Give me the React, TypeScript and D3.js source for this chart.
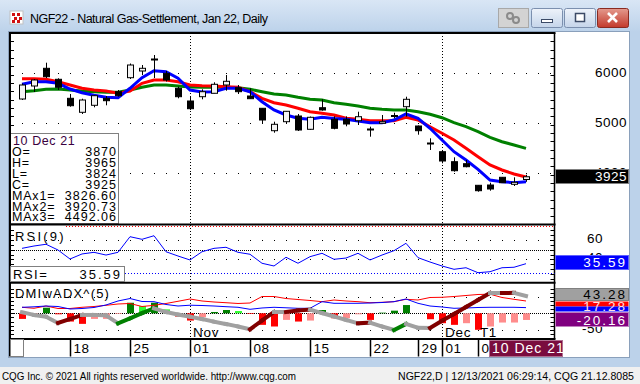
// Dependencies
import React, { useRef, useEffect } from "react";
import * as d3 from "d3";

// Trading days shown on the chart
const dates = [
  "2021-10-12", "2021-10-13", "2021-10-14", "2021-10-15",
  "2021-10-18", "2021-10-19", "2021-10-20", "2021-10-21", "2021-10-22",
  "2021-10-25", "2021-10-26", "2021-10-27", "2021-10-28", "2021-10-29",
  "2021-11-01", "2021-11-02", "2021-11-03", "2021-11-04", "2021-11-05",
  "2021-11-08", "2021-11-09", "2021-11-10", "2021-11-11", "2021-11-12",
  "2021-11-15", "2021-11-16", "2021-11-17", "2021-11-18", "2021-11-19",
  "2021-11-22", "2021-11-23", "2021-11-24", "2021-11-26",
  "2021-11-29", "2021-11-30",
  "2021-12-01", "2021-12-02", "2021-12-03",
  "2021-12-06", "2021-12-07", "2021-12-08", "2021-12-09", "2021-12-10",
];

// OHLC
const opens = [5480, 5740, 6094, 5874, 5494, 5214, 5354, 5494, 5626, 5906, 6040, 6262, 5994, 5694, 5440, 5526, 5594, 5760, 5706, 5540, 5294, 4846, 5026, 5140, 4874, 5306, 5074, 5074, 5046, 4880, 4994, 5150, 5326, 4940, 4600, 4426, 4226, 4186, 3754, 3760, 3914, 3774, 3870];
const highs = [5790, 5880, 6206, 5894, 5580, 5486, 5560, 5540, 5660, 6190, 6160, 6360, 6040, 5726, 5526, 5674, 5814, 5960, 5760, 5694, 5294, 5026, 5240, 5180, 5130, 5474, 5134, 5134, 5226, 4926, 5160, 5206, 5526, 4950, 4694, 4460, 4314, 4260, 3754, 3806, 3914, 3914, 3965];
const lows = [5460, 5620, 5900, 5660, 5326, 5180, 5314, 5354, 5530, 5880, 5960, 5900, 5830, 5494, 5260, 5474, 5594, 5646, 5580, 5486, 4994, 4806, 4994, 4840, 4860, 5246, 4874, 4934, 4960, 4726, 4994, 5094, 5126, 4766, 4460, 4194, 4026, 4114, 3626, 3646, 3806, 3740, 3824];
const closes = [5760, 5860, 5926, 5714, 5346, 5460, 5546, 5446, 5546, 6160, 6094, 6280, 5860, 5526, 5286, 5626, 5774, 5834, 5626, 5486, 5060, 4974, 5234, 4860, 5114, 5260, 4894, 4980, 5126, 4874, 5026, 5140, 5474, 4846, 4590, 4240, 4046, 4126, 3646, 3680, 3806, 3814, 3925];

// Moving averages
const ma1 = [5774, 5826, 5826, 5794, 5680, 5606, 5554, 5514, 5506, 5694, 5906, 6046, 6026, 5894, 5660, 5620, 5626, 5694, 5694, 5626, 5426, 5260, 5160, 5094, 5074, 5114, 5090, 5074, 5040, 5006, 5006, 5060, 5180, 5094, 4894, 4660, 4426, 4260, 4074, 3860, 3826, 3806, 3826.6];
const ma2 = [5886, 5886, 5874, 5826, 5760, 5694, 5660, 5640, 5594, 5640, 5794, 5860, 5860, 5826, 5760, 5746, 5740, 5726, 5714, 5626, 5494, 5406, 5360, 5294, 5226, 5194, 5160, 5094, 5074, 5046, 5046, 5046, 5114, 5060, 4926, 4794, 4660, 4494, 4326, 4160, 4060, 3980, 3920.73];
const ma3 = [5626, 5646, 5674, 5680, 5660, 5640, 5626, 5614, 5614, 5660, 5714, 5760, 5760, 5740, 5720, 5714, 5714, 5714, 5706, 5674, 5626, 5580, 5560, 5514, 5474, 5460, 5406, 5374, 5340, 5294, 5274, 5260, 5260, 5226, 5174, 5106, 5006, 4926, 4826, 4714, 4626, 4560, 4492.06];

// RSI(9)
const rsi = [51.4, 53.8, 55.6, 49.7, 40.4, 45.6, 47.3, 44.5, 47.3, 63.4, 60.7, 64.4, 47.9, 43.5, 39.4, 47.9, 51.4, 52.5, 47.3, 45.3, 36.0, 33.2, 42.2, 36.0, 42.8, 46.3, 40.1, 41.4, 46.3, 39.4, 44.5, 49.0, 56.6, 41.8, 37.3, 33.2, 29.8, 31.4, 26.3, 27.3, 31.4, 31.9, 35.59];
const rsiLevel = 26;

// DMI with ADX(5)
const diPlus = [18.2, 19.7, 22.1, 20.6, 13.0, 14.5, 17.6, 25.2, 37.3, 44.8, 35.8, 35.2, 26.7, 22.1, 24.5, 23.6, 22.1, 20.0, 18.2, 12.1, 16.1, 18.2, 16.7, 15.2, 15.2, 35.2, 30.3, 30.3, 30.3, 31.2, 32.7, 35.2, 43.3, 30.3, 22.1, 19.1, 15.2, 16.1, 17.6, 18.2, 18.2, 18.2, 17.2];
const diMinus = [18.2, 15.2, 22.1, 14.5, 14.5, 18.2, 20.6, 24.2, 28.2, 29.7, 20.6, 24.2, 29.7, 36.4, 43.3, 37.3, 34.2, 32.1, 29.7, 31.2, 50.9, 50.9, 44.8, 41.8, 38.8, 35.2, 40.3, 37.3, 35.2, 32.1, 33.3, 35.2, 42.4, 40.3, 47.9, 48.5, 50.9, 53.9, 57.0, 57.9, 47.9, 42.4, 37.3];
const dmiHist = [-17, -7, 17, -3, -25, -32, -17, -17, -2, 32, 22, 32, 12, -10, -22, -12, 4, 10, 7, -2, -35, -40, -20, -25, -22, 10, -15, -15, -3, -20, 2, 8, 25, 0, -18, -30, -35, -30, -50, -40, -28, -28, -20.16];
const adx = [27.3, 24.7, 23.0, 16.8, 20.7, 24.7, 24.7, 24.2, 16.5, 21.3, 26.4, 31.2, 27.6, 25.1, 23.0, 20.7, 18.1, 15.8, 13.4, 10.6, 19.3, 27.6, 27.5, 29.1, 30.0, 26.6, 23.2, 19.8, 16.5, 17.1, 13.4, 10.0, 15.8, 12.2, 12.0, 19.0, 25.6, 32.5, 39.4, 46.3, 46.2, 46.4, 43.28];
const diLabel = "17.28";

// Axes
const priceTicks = [6000, 5000, 4000];
const rsiTicks = [60, 40];
const dmiTicks = [50, -50];
const weekTicks = ["2021-10-18", "2021-10-25", "2021-11-01", "2021-11-08", "2021-11-15", "2021-11-22", "2021-11-29", "2021-12-01", "2021-12-06"];
const weekLabels = ["18", "25", "01", "08", "15", "22", "29", "01", "06"];
const monthLines = ["2021-11-01", "2021-12-01"];
const monthLabels = ["Nov", "Dec_"];

const FONT = "'Liberation Sans', Arial, sans-serif";

const App: React.FC = () => {
  const ref = useRef<SVGSVGElement | null>(null);

  useEffect(() => {
    if (!ref.current) return;
    document.body.style.margin = "0";
    const svg = d3.select(ref.current);
    svg.selectAll("*").remove();

    // layout
    const L = 10, R = 554.5;
    const mainTop = 33, mainBot = 224.5;
    const rsiTop = 225.5, rsiBot = 282.5;
    const dmiTop = 283.5, dmiBot = 339;
    const axBot = 356.5;

    // Scales
    const x = d3.scalePoint<string>().domain(dates).range([22, 526]);
    const yP = d3.scaleLinear().domain([4000, 6000]).range([173, 73]);
    const yR = d3.scaleLinear().domain([40, 60]).range([259.4, 240]);
    const yD = d3.scaleLinear().domain([-50, 50]).range([329.8, 296.8]);
    const yA = d3.scaleLinear().domain([10, 43.28]).range([329.95, 296]);
    const px = (i: number) => x(dates[i]) as number;
    const crisp = (v: number) => Math.round(v) + 0.5;

    const text = (g: any, tx: number, ty: number, s: string, size: number, fill = "#000", anchor = "start", spacing = 0) =>
      g.append("text")
        .attr("x", tx).attr("y", ty)
        .attr("font-family", FONT).attr("font-size", size)
        .attr("fill", fill).attr("text-anchor", anchor)
        .attr("letter-spacing", spacing)
        .text(s);
    const hline = (g: any, y: number, x1: number, x2: number, stroke: string, dash: string | null, w = 1) =>
      g.append("line").attr("x1", x1).attr("x2", x2).attr("y1", y).attr("y2", y)
        .attr("stroke", stroke).attr("stroke-width", w).attr("stroke-dasharray", dash);

    // Window chrome
    const defs = svg.append("defs");
    const tg = defs.append("linearGradient").attr("id", "titleGrad").attr("x1", 0).attr("x2", 0).attr("y1", 0).attr("y2", 1);
    tg.append("stop").attr("offset", 0).attr("stop-color", "#d9e6f5");
    tg.append("stop").attr("offset", 1).attr("stop-color", "#bcd2ea");
    const bg = defs.append("linearGradient").attr("id", "btnGrad").attr("x1", 0).attr("x2", 0).attr("y1", 0).attr("y2", 1);
    bg.append("stop").attr("offset", 0).attr("stop-color", "#eef3fa");
    bg.append("stop").attr("offset", 1).attr("stop-color", "#c5d5ea");
    const cg = defs.append("linearGradient").attr("id", "closeGrad").attr("x1", 0).attr("x2", 0).attr("y1", 0).attr("y2", 1);
    cg.append("stop").attr("offset", 0).attr("stop-color", "#e49a8e");
    cg.append("stop").attr("offset", 1).attr("stop-color", "#c3392b");
    defs.append("clipPath").attr("id", "rightAxis").append("rect").attr("x", 555).attr("y", 33).attr("width", 75).attr("height", 306);

    svg.append("rect").attr("width", 640).attr("height", 384).attr("fill", "#bcd2ea");
    svg.append("rect").attr("width", 640).attr("height", 32).attr("fill", "url(#titleGrad)");

    // icon
    const icon = svg.append("g").attr("transform", "translate(10,11)");
    icon.append("rect").attr("width", 13).attr("height", 13).attr("fill", "#fff").attr("stroke", "#c0c0c0");
    [[2, 2], [7, 2], [4, 6], [9, 6], [2, 9], [7, 9]].forEach(([a, b]) =>
      icon.append("rect").attr("x", a).attr("y", b).attr("width", 3).attr("height", 3).attr("fill", "#d01010"));
    text(svg, 30, 23, "NGF22 - Natural Gas-Settlement, Jan 22, Daily", 12.5).attr("textLength", 238);

    // title buttons
    svg.append("rect").attr("x", 498.5).attr("y", 8.5).attr("width", 30).attr("height", 19).attr("fill", "#d3d3d3").attr("stroke", "#a8a8a8");
    svg.append("circle").attr("cx", 510).attr("cy", 16).attr("r", 3).attr("fill", "none").attr("stroke", "#8a8a8a").attr("stroke-width", 2);
    svg.append("circle").attr("cx", 516).attr("cy", 20).attr("r", 3).attr("fill", "none").attr("stroke", "#8a8a8a").attr("stroke-width", 2);
    svg.append("rect").attr("x", 531.5).attr("y", 8.5).attr("width", 31).attr("height", 19).attr("rx", 2).attr("fill", "url(#btnGrad)").attr("stroke", "#7b8fae");
    svg.append("rect").attr("x", 541.5).attr("y", 19.5).attr("width", 11).attr("height", 3).attr("fill", "#fff").attr("stroke", "#3b4a66");
    svg.append("rect").attr("x", 564.5).attr("y", 8.5).attr("width", 31).attr("height", 19).attr("rx", 2).attr("fill", "url(#btnGrad)").attr("stroke", "#7b8fae");
    svg.append("rect").attr("x", 575.5).attr("y", 13.5).attr("width", 9).attr("height", 8).attr("fill", "#fff").attr("stroke", "#3b4a66").attr("stroke-width", 1.5);
    svg.append("rect").attr("x", 597.5).attr("y", 8.5).attr("width", 31).attr("height", 19).attr("rx", 2).attr("fill", "url(#closeGrad)").attr("stroke", "#8a2a20");
    svg.append("path").attr("d", "M608,13 L617,22 M617,13 L608,22").attr("stroke", "#fff").attr("stroke-width", 2.6);

    // client area and status bar
    svg.append("rect").attr("x", 8.5).attr("y", 31.5).attr("width", 621).attr("height", 326).attr("fill", "#fff").attr("stroke", "#8aa0bb");
    svg.append("rect").attr("x", 0).attr("y", 367).attr("width", 640).attr("height", 17).attr("fill", "#f0f0f0");
    text(svg, 2, 380, "CQG Inc. \u00a9 2021 All rights reserved worldwide. http://www.cqg.com", 11)
      .attr("textLength", 294).attr("lengthAdjust", "spacingAndGlyphs");
    text(svg, 634, 380, "NGF22,D | 12/13/2021 06:29:14, CQG 21.12.8085", 11, "#000", "end")
      .attr("textLength", 236).attr("lengthAdjust", "spacingAndGlyphs");

    const chart = svg.append("g");

    // Horizontal grids
    priceTicks.forEach((t) => hline(chart, crisp(yP(t)), L, R, "#000", "1 11"));
    rsiTicks.forEach((t) => hline(chart, crisp(yR(t)), L, R, "#000", "1 11"));
    hline(chart, crisp(yR(50)), L, R, "#000", "1 1");
    dmiTicks.forEach((t) => hline(chart, crisp(yD(t)), L, R, "#000", "1 11"));
    hline(chart, crisp(yD(0)), L, R, "#000", "1 1");

    // Vertical month grids
    monthLines.forEach((d) =>
      chart.append("line").attr("x1", crisp(x(d) as number)).attr("x2", crisp(x(d) as number))
        .attr("y1", mainTop).attr("y2", dmiBot).attr("stroke", "#000").attr("stroke-dasharray", "1 2"));

    // Axis minor ticks
    const tickSet = (scale: any, step: number, top: number, bot: number) => {
      d3.range(-200, 8000, step).map((v) => scale(v)).filter((y: number) => y > top + 1 && y < bot - 1).forEach((y: number) => {
        hline(chart, crisp(y), L, L + 4, "#000", null);
        hline(chart, crisp(y), R - 4, R, "#000", null);
      });
    };
    tickSet(yP, 1000 / 6, mainTop, mainBot);
    tickSet(yR, 5, rsiTop, rsiBot);
    tickSet(yD, 12.5, dmiTop, dmiBot);

    // Moving averages
    const maLine = (vals: number[], color: string) =>
      chart.append("path").datum(vals)
        .attr("d", d3.line<number>().x((_d, i) => px(i)).y((d) => yP(d)))
        .attr("fill", "none").attr("stroke", color).attr("stroke-width", 3);
    maLine(ma3, "#008000");
    maLine(ma2, "#ff0000");
    maLine(ma1, "#0000ff");

    // Candles
    const candles = chart.append("g").attr("class", "candles");
    dates.forEach((_d, i) => {
      const cx = px(i) + 0.5;
      candles.append("line").attr("x1", cx).attr("x2", cx)
        .attr("y1", yP(highs[i])).attr("y2", yP(lows[i])).attr("stroke", "#000");
      const top = yP(Math.max(opens[i], closes[i]));
      const h = Math.max(1, Math.abs(yP(opens[i]) - yP(closes[i])));
      candles.append("rect").attr("x", px(i) - 2.5).attr("y", top).attr("width", 6).attr("height", h)
        .attr("fill", closes[i] >= opens[i] ? "#f4f4f4" : "#000").attr("stroke", "#000");
    });

    // Info box
    const info = chart.append("g");
    info.append("rect").attr("x", 10.5).attr("y", 133.5).attr("width", 108).attr("height", 90).attr("fill", "#fff").attr("stroke", "#808080");
    const last = dates.length - 1;
    text(info, 13, 145, "10 Dec 21", 12.5, "#3a0040", "start", 0.6);
    const rows: [string, string][] = [
      ["O=", String(opens[last])], ["H=", String(highs[last])], ["L=", String(lows[last])], ["C=", String(closes[last])],
      ["MAx1=", ma1[last].toFixed(2)], ["MAx2=", ma2[last].toFixed(2)], ["MAx3=", ma3[last].toFixed(2)],
    ];
    rows.forEach(([k, v], r) => {
      const ty = 156 + r * 10.9;
      text(info, 12, ty, k, 12.5, "#000", "start", 0.8);
      text(info, 117, ty, v, 12.5, "#000", "end", 1);
    });

    // Panel borders
    hline(chart, mainTop, L - 1, R + 1, "#000", null, 2);
    hline(chart, 224.5, L, R + 1, "#000", null, 2);
    hline(chart, 226.5, 66, R, "#ff0000", "1 2");
    hline(chart, 282.8, L, R + 1, "#000", null, 2);
    hline(chart, dmiBot, L, R + 1, "#000", null, 2);
    chart.append("line").attr("x1", L).attr("x2", L).attr("y1", mainTop).attr("y2", axBot).attr("stroke", "#000").attr("stroke-width", 2);
    chart.append("line").attr("x1", R).attr("x2", R).attr("y1", mainTop).attr("y2", dmiBot).attr("stroke", "#000").attr("stroke-width", 1.5);

    // RSI panel
    text(chart, 15, 240.5, "RSI(9)", 13, "#000", "start", 2.2);
    chart.append("path").datum(rsi)
      .attr("d", d3.line<number>().x((_d, i) => px(i)).y((d) => yR(d)))
      .attr("fill", "none").attr("stroke", "#0000ff").attr("stroke-width", 1);
    hline(chart, crisp(yR(rsiLevel)), 125, R, "#0000ff", "1 2");
    chart.append("rect").attr("x", 10.5).attr("y", 266.5).attr("width", 114).attr("height", 15).attr("fill", "#fff").attr("stroke", "#808080");
    text(chart, 13, 278.5, "RSI=", 13, "#000", "start", 1.5);
    text(chart, 122, 278.5, rsi[last].toFixed(2), 13, "#000", "end", 2);

    // DMI panel
    text(chart, 15, 298, "DMIwADX^(5)", 13, "#000", "start", 1.2);
    const hist = chart.append("g");
    dmiHist.forEach((v, i) => {
      if (v === 0) return;
      const prev = i > 0 ? dmiHist[i - 1] : 0;
      const strong = Math.sign(v) !== Math.sign(prev) || Math.abs(v) > Math.abs(prev);
      const color = v < 0 ? (strong ? "#ff0000" : "#ff8c8c") : (strong ? "#008000" : "#33ff33");
      const y0 = yD(0), y1 = yD(v);
      hist.append("rect").attr("x", px(i) - 3).attr("width", 7)
        .attr("y", Math.min(y0, y1)).attr("height", Math.abs(y1 - y0)).attr("fill", color);
    });
    const diLine = (vals: number[], color: string) =>
      chart.append("path").datum(vals)
        .attr("d", d3.line<number>().x((_d, i) => px(i)).y((d) => yD(d)))
        .attr("fill", "none").attr("stroke", color).attr("stroke-width", 1);
    diLine(diMinus, "#ff0000");
    diLine(diPlus, "#0000ff");
    const adxG = chart.append("g");
    for (let i = 1; i < adx.length; i++) {
      const rising = adx[i] > adx[i - 1];
      const color = !rising ? "#a0a0a0" : diPlus[i] > diMinus[i] ? "#008000" : "#800000";
      adxG.append("line").attr("x1", px(i - 1)).attr("x2", px(i))
        .attr("y1", yA(adx[i - 1])).attr("y2", yA(adx[i]))
        .attr("stroke", color).attr("stroke-width", 4).attr("stroke-linecap", "square");
    }
    monthLines.forEach((d, k) => text(chart, (x(d) as number) + 3, 337, monthLabels[k], 13.5, "#000", "start", 0.8));
    text(chart, (x("2021-12-06") as number) + 2, 337, "T1", 13.5, "#000", "start", 0.5);

    // Date axis
    chart.append("rect").attr("x", 10.5).attr("y", 339.5).attr("width", 13).attr("height", 17).attr("fill", "#fff").attr("stroke", "#808080");
    weekTicks.forEach((d, k) => {
      const tx = crisp(x(d) as number);
      chart.append("line").attr("x1", tx).attr("x2", tx).attr("y1", dmiBot).attr("y2", axBot).attr("stroke", "#000").attr("stroke-width", 1.5);
      text(chart, tx + 3, 352.5, weekLabels[k], 13.5, "#000", "start", 0.5);
    });
    chart.append("rect").attr("x", 489.5).attr("y", 340.5).attr("width", 73).attr("height", 16).attr("fill", "#7a0c3e").attr("stroke", "#b07090");
    text(chart, 492, 353, "10 Dec 21", 14, "#fff", "start", 1);

    // Right axis labels (partly covered by the value boxes, as in CQG)
    const ax = chart.append("g").attr("clip-path", "url(#rightAxis)");
    priceTicks.forEach((t) => text(ax, 627, yP(t) + 3.5, String(t), 13.5, "#000", "end", 0.5));
    ax.append("rect").attr("x", 555.5).attr("y", 169.5).attr("width", 73).attr("height", 14).attr("fill", "#000").attr("stroke", "#808080");
    text(ax, 627, 181, String(closes[last]), 13.5, "#fff", "end", 0.5);

    rsiTicks.forEach((t) => text(ax, 603, yR(t) + 3, String(t), 13.5, "#000", "end", 0.5));
    ax.append("rect").attr("x", 555.5).attr("y", 255.5).attr("width", 73).attr("height", 14).attr("fill", "#0000ff").attr("stroke", "#6060ff");
    text(ax, 627, 267, rsi[last].toFixed(2), 13.5, "#fff", "end", 2);

    text(ax, 603, yD(dmiTicks[1]) + 3.5, String(dmiTicks[1]), 13.5, "#000", "end", 0.5);
    ax.append("rect").attr("x", 555.5).attr("y", 288.5).attr("width", 73).attr("height", 12).attr("fill", "#a0a0a0").attr("stroke", "#808080");
    text(ax, 627, 299, adx[last].toFixed(2), 13.5, "#000", "end", 2);
    ax.append("rect").attr("x", 555.5).attr("y", 301.5).attr("width", 73).attr("height", 5).attr("fill", "#ff0000");
    ax.append("rect").attr("x", 555.5).attr("y", 306.5).attr("width", 73).attr("height", 5).attr("fill", "#0000ff");
    text(ax, 627, 311, diLabel, 13.5, "#ffe0e0", "end", 2);
    ax.append("rect").attr("x", 555.5).attr("y", 312.5).attr("width", 73).attr("height", 14).attr("fill", "#800080").attr("stroke", "#c080c0");
    text(ax, 627, 324.5, dmiHist[last].toFixed(2), 13.5, "#fff", "end", 2);
  }, []);

  return <svg ref={ref} width={640} height={384} style={{ display: "block" }} />;
};

export default App;
